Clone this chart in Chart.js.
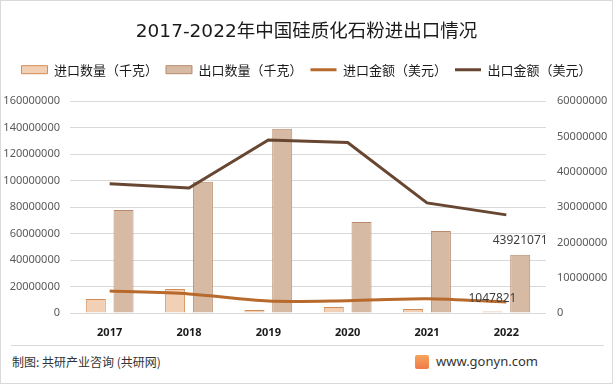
<!DOCTYPE html>
<html><head><meta charset="utf-8">
<script src="https://cdn.jsdelivr.net/npm/chart.js@4/dist/chart.umd.min.js"></script>
<style>
html,body{margin:0;padding:0;background:#fff;}
#wrap{position:relative;width:611px;height:382px;border:1px solid #d9d9d9;background:#fff;overflow:hidden;}
#cv{position:absolute;left:0;top:0;}
#sep{position:absolute;left:10px;right:8px;top:344px;height:1px;background:#d9d9d9;}
#src{position:absolute;left:11px;top:352px;font:12px "Noto Sans CJK SC",sans-serif;color:#333;}
#web{position:absolute;left:435px;top:351px;font:13px "Noto Sans",sans-serif;color:#333;}
#logo{position:absolute;left:414px;top:354px;width:14px;height:14px;background:linear-gradient(180deg,#f6a55a,#ef7a4a);border-radius:2px;}
</style></head><body>
<div id="wrap">
<canvas id="cv" width="611" height="342"></canvas>
<div id="sep"></div>
<div id="src">制图: 共研产业咨询 (共研网)</div>
<div id="logo"></div><div id="web">www.gonyn.com</div>
</div>
<script>
const years = ['2017','2018','2019','2020','2021','2022'];
const importQty = [10600000, 18100000, 2300000, 4500000, 3000000, 1047821];
const exportQty = [77900000, 99100000, 139100000, 68800000, 62000000, 43921071];
const importAmt = [6200000, 5400000, 3400000, 3500000, 4050000, 3100000];
const exportAmt = [36600000, 35400000, 49000000, 48300000, 31200000, 27800000];
const leftTicks = [0,20000000,40000000,60000000,80000000,100000000,120000000,140000000,160000000];
const rightTicks = [0,10000000,20000000,30000000,40000000,50000000,60000000];
const names = ['进口数量（千克）','出口数量（千克）','进口金额（美元）','出口金额（美元）'];

const labelPlugin = {
  id:'lbl',
  afterDatasetsDraw(chart){
    const ctx = chart.ctx;
    ctx.save();
    ctx.font = '12px "Noto Sans", sans-serif';
    ctx.fillStyle = '#404040';
    ctx.textAlign = 'center';
    ctx.textBaseline = 'middle';
    const last = years.length-1;
    const b1 = chart.getDatasetMeta(1).data[last];
    ctx.fillText(String(exportQty[last]), b1.x, b1.y-14);
    const b0 = chart.getDatasetMeta(0).data[last];
    ctx.fillText(String(importQty[last]), b0.x, b0.y-13);
    ctx.restore();
  }
};

new Chart(document.getElementById('cv'), {
  data:{
    labels: years,
    datasets:[
      {type:'bar', label:names[0], data:importQty, yAxisID:'y', backgroundColor:'#f2d0b5', borderColor:'#d48c55', borderWidth:1, order:2, categoryPercentage:0.7, barPercentage:0.72},
      {type:'bar', label:names[1], data:exportQty, yAxisID:'y', backgroundColor:'#d7baa4', borderColor:'#b98b6c', borderWidth:1, order:2, categoryPercentage:0.7, barPercentage:0.72},
      {type:'line', label:names[2], data:importAmt, yAxisID:'y1', borderColor:'#b8692c', backgroundColor:'#b8692c', borderWidth:3, pointRadius:0, tension:0.3, order:1},
      {type:'line', label:names[3], data:exportAmt, yAxisID:'y1', borderColor:'#684732', backgroundColor:'#684732', borderWidth:3, pointRadius:0, tension:0, order:1}
    ]
  },
  options:{
    responsive:false, animation:false,
    layout:{padding:{left:0,right:0,top:0,bottom:0}},
    plugins:{
      title:{display:true, text:'2017-2022年中国硅质化石粉进出口情况', color:'#1a1a1a', font:{family:'"DejaVu Sans","Noto Sans CJK SC"', size:18.5, weight:'normal'}, padding:{top:20,bottom:12}},
      legend:{position:'top', labels:{
        usePointStyle:true, pointStyleWidth:26, boxWidth:26, boxHeight:8, padding:8,
        color:'#1a1a1a', font:{family:'"Noto Sans CJK SC"', size:13},
        generateLabels(chart){
          return chart.data.datasets.map((d,i)=>({
            text:d.label, datasetIndex:i,
            fillStyle: d.type==='bar'? d.backgroundColor : d.borderColor,
            strokeStyle: d.borderColor,
            lineWidth: d.type==='bar'?1:3,
            pointStyle: d.type==='bar'?'rect':'line',
            fontColor:'#1a1a1a'
          }));
        }
      }},
      tooltip:{enabled:false}
    },
    scales:{
      x:{offset:true, grid:{display:false}, border:{display:false},
        afterFit(ax){ax.height = 30;},
        ticks:{color:'#1a1a1a', font:{family:'"Noto Sans"', size:11, weight:'bold'}, padding:5}},
      xTop:{type:'category', position:'top', labels:years, grid:{display:false}, border:{display:false},
        ticks:{display:false}, afterFit(ax){ax.height = 15;}},
      y:{position:'left', min:0, max:160000000, afterBuildTicks(ax){ax.ticks = leftTicks.map(v=>({value:v}));},
        afterFit(ax){ax.width = 69;},
        grid:{color:'#d9d9d9', drawTicks:false}, border:{display:false},
        ticks:{color:'#595959', font:{family:'"Noto Sans"', size:11}, padding:10, callback:v=>String(v)}},
      y1:{position:'right', min:0, max:60000000, afterBuildTicks(ax){ax.ticks = rightTicks.map(v=>({value:v}));},
        afterFit(ax){ax.width = 66;},
        grid:{display:false, drawTicks:false}, border:{display:false},
        ticks:{color:'#595959', font:{family:'"Noto Sans"', size:11}, padding:11, callback:v=>String(v)}}
    }
  },
  plugins:[labelPlugin]
});
</script>
</body></html>
